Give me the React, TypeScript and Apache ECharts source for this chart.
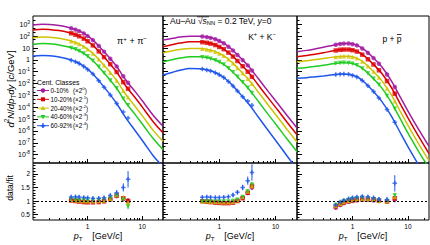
import React, { useEffect, useRef } from 'react';
import * as echarts from 'echarts';

// ---------------- data ----------------
const centClasses = ['0-10%', '10-20%', '20-40%', '40-60%', '60-92%'];
const scalePowers = ['0', '-1', '-2', '-3', '-4'];

const fitPt = [0.1, 0.15, 0.2, 0.3, 0.45, 0.65, 0.9, 1.25, 1.7, 2.4, 3.4, 5, 7.5, 11, 16, 24];

const piFit010 = [870, 1000, 950, 790, 540, 320, 145, 46, 11.2, 1.9, 0.28, 2.0e-2, 2.0e-3, 2.0e-4, 2.0e-5, 2.5e-6];
const piFit1020 = [330, 380, 360, 300, 200, 117, 54, 16.6, 4.0, 0.66, 9.5e-2, 6.3e-3, 6.0e-4, 5.9e-5, 5.8e-6, 7.1e-7];
const piFit2040 = [74, 85, 81, 66, 45, 26, 11.5, 3.5, 0.81, 0.132, 1.86e-2, 1.2e-3, 1.12e-4, 1.1e-5, 1.07e-6, 1.35e-7];
const piFit4060 = [20.4, 23.4, 22.4, 18.2, 12, 6.8, 2.95, 0.85, 0.19, 2.95e-2, 4.0e-3, 2.5e-4, 2.3e-5, 2.2e-6, 2.2e-7, 2.7e-8];
const piFit6092 = [2.1, 2.3, 2.2, 1.74, 1.12, 0.6, 0.24, 6.3e-2, 1.26e-2, 1.8e-3, 2.1e-4, 1.26e-5, 1.0e-6, 8.9e-8, 7.9e-9, 1.0e-9];

const kFit010 = [47, 66, 83, 100, 100, 79, 50, 22.4, 7.1, 1.41, 0.25, 2.4e-2, 2.0e-3, 2.0e-4, 2.0e-5, 1.8e-6];
const kFit1020 = [12.9, 20, 26, 33, 33, 26, 16.2, 7.1, 2.2, 0.43, 7.4e-2, 6.9e-3, 5.6e-4, 5.6e-5, 5.5e-6, 4.9e-7];
const kFit2040 = [4.0, 5.9, 7.6, 9.1, 9.1, 7.2, 4.5, 1.95, 0.59, 0.112, 1.9e-2, 1.74e-3, 1.41e-4, 1.38e-5, 1.35e-6, 1.17e-7];
const kFit4060 = [0.69, 1.07, 1.41, 1.82, 1.82, 1.41, 0.85, 0.355, 0.105, 1.95e-2, 3.2e-3, 2.9e-4, 2.3e-5, 2.2e-6, 2.1e-7, 1.8e-8];
const kFit6092 = [5.2e-2, 9.1e-2, 0.132, 0.186, 0.182, 0.132, 7.4e-2, 2.8e-2, 7.4e-3, 1.17e-3, 1.7e-4, 1.38e-5, 1.0e-6, 8.9e-8, 7.9e-9, 6.3e-10];

const pFit010 = [4.9, 6.3, 7.9, 11.5, 17.4, 23.4, 24, 15.8, 6.3, 1.41, 0.25, 1.78e-2, 5.6e-4, 2.2e-5, 1.12e-6, 5.0e-8];
const pFit1020 = [1.86, 2.34, 2.88, 3.98, 5.75, 7.4, 7.4, 4.8, 1.86, 0.41, 7.1e-2, 4.9e-3, 1.5e-4, 5.9e-6, 2.9e-7, 1.26e-8];
const pFit2040 = [0.69, 0.83, 1.0, 1.29, 1.7, 2.04, 2.0, 1.26, 0.48, 0.102, 1.7e-2, 1.15e-3, 3.5e-5, 1.38e-6, 6.8e-8, 3.2e-9];
const pFit4060 = [0.195, 0.23, 0.27, 0.35, 0.46, 0.56, 0.54, 0.33, 0.123, 2.5e-2, 4.1e-3, 2.7e-4, 8.1e-6, 3.1e-7, 1.5e-8, 7.9e-10];
const pFit6092 = [2.75e-2, 3.16e-2, 3.6e-2, 4.4e-2, 5.5e-2, 6.3e-2, 5.9e-2, 3.4e-2, 1.12e-2, 2.1e-3, 3.0e-4, 1.9e-5, 5.6e-7, 2.2e-8, 1.12e-9, 5.0e-11];

const piPt = [0.5, 0.6, 0.7, 0.85, 1.0, 1.25, 1.6, 2.0, 2.6, 3.4, 4.5, 5.5];
const piData010 = [457, 355, 263, 166, 100, 46, 14.8, 4.9, 1.23, 0.28, 4.1e-2, 1.17e-2];
const piData1020 = [174, 132, 98, 62, 37, 16.6, 5.2, 1.7, 0.43, 9.5e-2, 1.32e-2, 3.7e-3];
const piData2040 = [38, 29, 21.4, 13.2, 7.8, 3.5, 1.1, 0.35, 8.3e-2, 1.86e-2, 2.5e-3, 6.9e-4];
const piData4060 = [10.2, 7.8, 5.6, 3.4, 2.0, 0.85, 0.26, 7.9e-2, 1.86e-2, 4.0e-3, 5.2e-4, 1.45e-4];
const piData6092 = [0.93, 0.69, 0.49, 0.28, 0.155, 6.3e-2, 1.74e-2, 5.0e-3, 1.1e-3, 2.1e-4, 4.0e-5, 1.26e-5];

const kPt = [0.5, 0.6, 0.7, 0.85, 1.0, 1.2, 1.45, 1.75, 2.1, 2.6, 3.2, 3.8];
const kData010 = [93, 83, 71, 55, 39, 25, 12.9, 6.2, 2.6, 0.95, 0.34, 0.126];
const kData1020 = [31, 27.5, 23.4, 17.8, 12.3, 7.9, 4.1, 1.9, 0.81, 0.29, 0.1, 3.7e-2];
const kData2040 = [8.5, 7.6, 6.5, 4.9, 3.4, 2.2, 1.1, 0.51, 0.21, 7.4e-2, 2.6e-2, 9.5e-3];
const kData4060 = [1.7, 1.48, 1.26, 0.93, 0.65, 0.4, 0.2, 8.9e-2, 3.7e-2, 1.29e-2, 4.4e-3, 1.6e-3];
const kData6092 = [0.166, 0.141, 0.115, 8.1e-2, 5.5e-2, 3.2e-2, 1.48e-2, 6.3e-3, 2.4e-3, 7.6e-4, 3.3e-4, 1.45e-4];

const pPt = [0.5, 0.6, 0.7, 0.85, 1.0, 1.2, 1.5, 1.9, 2.4, 3.0, 4.2, 5.8];
const pData010 = [19, 21.9, 23.4, 24, 20.9, 16.6, 9.1, 3.9, 1.41, 0.47, 5.9e-2, 5.1e-3];
const pData1020 = [6.2, 7.1, 7.4, 7.4, 6.5, 5.0, 2.75, 1.12, 0.41, 0.132, 1.62e-2, 1.41e-3];
const pData2040 = [1.78, 1.95, 2.04, 2.0, 1.74, 1.35, 0.71, 0.29, 0.102, 3.2e-2, 3.9e-3, 3.3e-4];
const pData4060 = [0.49, 0.54, 0.56, 0.54, 0.46, 0.355, 0.186, 7.2e-2, 2.5e-2, 7.8e-3, 9.1e-4, 7.6e-5];
const pData6092 = [5.8e-2, 6.2e-2, 6.3e-2, 6.0e-2, 4.9e-2, 3.6e-2, 1.78e-2, 6.5e-3, 2.1e-3, 6.0e-4, 6.6e-5, 5.4e-6];

const piRatio010 = [1.03, 1.02, 1.0, 0.98, 0.97, 0.97, 0.98, 1.0, 1.06, 1.18, 1.08, 1.0];
const piRatio1020 = [1.02, 1.0, 0.98, 0.96, 0.95, 0.95, 0.96, 0.99, 1.06, 1.2, 1.1, 1.0];
const piRatio2040 = [1.04, 1.03, 1.02, 1.0, 0.99, 0.99, 1.0, 1.02, 1.08, 1.22, 1.12, 0.95];
const piRatio4060 = [1.06, 1.05, 1.04, 1.03, 1.02, 1.02, 1.03, 1.05, 1.1, 1.2, 1.05, 0.8];
const piRatio6092 = [1.15, 1.16, 1.15, 1.13, 1.12, 1.1, 1.1, 1.12, 1.2, 1.3, 1.5, 1.8];
const piErr = [0.03, 0.03, 0.03, 0.03, 0.03, 0.03, 0.03, 0.04, 0.05, 0.06, 0.08, 0.1];
const piErrPeri = [0.05, 0.05, 0.05, 0.05, 0.05, 0.05, 0.05, 0.06, 0.08, 0.1, 0.15, 0.3];

const kRatio010 = [1.0, 0.99, 0.98, 0.96, 0.95, 0.94, 0.94, 0.96, 1.02, 1.12, 1.3, 1.5];
const kRatio1020 = [0.99, 0.97, 0.96, 0.94, 0.93, 0.92, 0.92, 0.94, 1.0, 1.1, 1.3, 1.55];
const kRatio2040 = [1.0, 0.99, 0.98, 0.97, 0.96, 0.95, 0.95, 0.97, 1.03, 1.15, 1.35, 1.55];
const kRatio4060 = [0.98, 0.98, 0.98, 0.98, 0.98, 0.98, 0.98, 1.0, 1.05, 1.15, 1.35, 1.6];
const kRatio6092 = [1.14, 1.15, 1.14, 1.13, 1.13, 1.14, 1.16, 1.22, 1.32, 1.5, 1.75, 2.05];
const kErr = [0.03, 0.03, 0.03, 0.03, 0.03, 0.03, 0.03, 0.04, 0.05, 0.06, 0.08, 0.1];
const kErrPeri = [0.05, 0.05, 0.05, 0.05, 0.05, 0.05, 0.06, 0.07, 0.08, 0.1, 0.15, 0.3];

const pRatio010 = [0.75, 0.85, 0.92, 0.97, 1.0, 1.03, 1.05, 1.05, 1.03, 1.0, 0.98, 1.05];
const pRatio1020 = [0.8, 0.88, 0.94, 0.99, 1.02, 1.04, 1.06, 1.06, 1.04, 1.01, 0.98, 1.1];
const pRatio2040 = [0.82, 0.9, 0.96, 1.01, 1.04, 1.06, 1.08, 1.07, 1.05, 1.01, 0.99, 1.15];
const pRatio4060 = [0.85, 0.93, 0.99, 1.04, 1.07, 1.09, 1.1, 1.09, 1.06, 1.02, 1.0, 1.2];
const pRatio6092 = [0.85, 0.96, 1.03, 1.08, 1.12, 1.15, 1.17, 1.16, 1.12, 1.06, 1.05, 1.65];
const pErr = [0.04, 0.03, 0.03, 0.03, 0.03, 0.03, 0.03, 0.03, 0.04, 0.05, 0.06, 0.1];
const pErrPeri = [0.06, 0.05, 0.05, 0.05, 0.05, 0.05, 0.05, 0.05, 0.06, 0.07, 0.1, 0.3];

const yMajorTicks = [1e-8, 1e-7, 1e-6, 1e-5, 1e-4, 1e-3, 1e-2, 1e-1, 1, 10, 100, 1000];
const xMajorTicks = [1, 10];
const xMinorTicks = [0.2, 0.3, 0.4, 0.5, 0.6, 0.7, 0.8, 0.9, 2, 3, 4, 5, 6, 7, 8, 9, 20];
const ratioMajorTicks = [0.5, 1, 1.5, 2];
const ratioMinorTicks = [0.4, 0.6, 0.7, 0.8, 0.9, 1.1, 1.2, 1.3, 1.4, 1.6, 1.7, 1.8, 1.9, 2.1, 2.2, 2.3];

// ---------------- styles ----------------
const FONT = '"Liberation Sans", Arial, Helvetica, sans-serif';
const BLACK = '#000000';
const colors = ['#a31ca3', '#dc0000', '#cfc300', '#1fcc1f', '#1f55ec'];
const CROSS = 'path://M0.33,0H0.67V0.33H1V0.67H0.67V1H0.33V0.67H0V0.33H0.33Z';
const symbols = ['circle', 'rect', 'triangle', 'triangle', CROSS];
const symbolRot = [0, 0, 0, 180, 0];
const X_MIN = 0.1;
const X_MAX = 24;
const Y_MIN = 2e-9;
const Y_MAX = 5e3;

const yMinorTicks: number[] = [];
for (let e = -9; e <= 3; e++) {
  [2, 5].forEach((m) => {
    const v = m * Math.pow(10, e);
    if (v > Y_MIN && v < Y_MAX) yMinorTicks.push(v);
  });
}

const species = [
  { pt: piPt, fits: [piFit010, piFit1020, piFit2040, piFit4060, piFit6092], data: [piData010, piData1020, piData2040, piData4060, piData6092], ratios: [piRatio010, piRatio1020, piRatio2040, piRatio4060, piRatio6092], errs: [piErr, piErr, piErr, piErr, piErrPeri] },
  { pt: kPt, fits: [kFit010, kFit1020, kFit2040, kFit4060, kFit6092], data: [kData010, kData1020, kData2040, kData4060, kData6092], ratios: [kRatio010, kRatio1020, kRatio2040, kRatio4060, kRatio6092], errs: [kErr, kErr, kErr, kErr, kErrPeri] },
  { pt: pPt, fits: [pFit010, pFit1020, pFit2040, pFit4060, pFit6092], data: [pData010, pData1020, pData2040, pData4060, pData6092], ratios: [pRatio010, pRatio1020, pRatio2040, pRatio4060, pRatio6092], errs: [pErr, pErr, pErr, pErr, pErrPeri] },
];

const gridRects = [
  { left: 33, top: 16, width: 130, height: 147 },
  { left: 163, top: 16, width: 134, height: 147 },
  { left: 297, top: 16, width: 132, height: 147 },
  { left: 33, top: 163, width: 130, height: 57 },
  { left: 163, top: 163, width: 134, height: 57 },
  { left: 297, top: 163, width: 132, height: 57 },
];

function richFor(fs: number, color = BLACK) {
  return {
    sup: { fontSize: fs * 0.68, verticalAlign: 'top', lineHeight: fs * 0.75, fontFamily: FONT, color, fill: color },
    sub: { fontSize: fs * 0.68, verticalAlign: 'bottom', lineHeight: fs * 0.75, fontFamily: FONT, color, fill: color },
    i: { fontSize: fs, fontStyle: 'italic', fontFamily: FONT, color, fill: color },
    n: { fontSize: fs, fontFamily: FONT, color, fill: color },
    gap: { fontSize: fs, width: fs * 1.1, fontFamily: FONT },
  };
}

function powLabel(v: number) {
  const e = Math.round(Math.log10(v));
  if (e === 0) return '1';
  if (e === 1) return '10';
  return '10{sup|' + e + '}';
}

function buildOption() {
  const xAxis: any[] = [];
  const yAxis: any[] = [];
  gridRects.forEach((_, g) => {
    const bottomRow = g >= 3;
    const firstCol = g % 3 === 0;
    xAxis.push({
      type: 'log', logBase: 10, gridIndex: g, position: 'bottom', min: X_MIN, max: X_MAX,
      axisLine: { show: false }, splitLine: { show: false },
      axisTick: { show: true, inside: true, length: 4, customValues: xMajorTicks, lineStyle: { color: BLACK, width: 1 } },
      axisLabel: {
        show: bottomRow, customValues: xMajorTicks, formatter: (v: number) => String(Math.round(v)),
        fontSize: 6.5, color: BLACK, fontFamily: FONT, margin: 3,
      },
      name: bottomRow ? '{i|p}{sub|T}{gap| }[GeV/{i|c}]' : '',
      nameLocation: 'middle', nameGap: 6,
      nameTextStyle: { fontSize: 9, fontFamily: FONT, color: BLACK, lineHeight: 11, rich: richFor(9) },
    });
    xAxis.push({
      type: 'log', logBase: 10, gridIndex: g, position: 'bottom', min: X_MIN, max: X_MAX,
      axisLine: { show: false }, splitLine: { show: false },
      axisTick: { show: true, inside: true, length: 2, customValues: xMinorTicks, lineStyle: { color: BLACK, width: 1 } },
      axisLabel: { show: false },
    });
    if (!bottomRow) {
      yAxis.push({
        type: 'log', logBase: 10, gridIndex: g, position: 'left', min: Y_MIN, max: Y_MAX,
        axisLine: { show: false }, splitLine: { show: false },
        axisTick: { show: true, inside: true, length: 5, customValues: yMajorTicks, lineStyle: { color: BLACK, width: 1 } },
        axisLabel: {
          show: firstCol, customValues: yMajorTicks, formatter: powLabel,
          fontSize: 7, lineHeight: 9, color: BLACK, fontFamily: FONT, margin: 3, rich: richFor(7),
        },
      });
      yAxis.push({
        type: 'log', logBase: 10, gridIndex: g, position: 'left', min: Y_MIN, max: Y_MAX,
        axisLine: { show: false }, splitLine: { show: false },
        axisTick: { show: true, inside: true, length: 2.5, customValues: yMinorTicks, lineStyle: { color: BLACK, width: 1 } },
        axisLabel: { show: false },
      });
    } else {
      yAxis.push({
        type: 'value', gridIndex: g, position: 'left', min: 0.3, max: 2.4,
        axisLine: { show: false }, splitLine: { show: false },
        axisTick: { show: true, inside: true, length: 5, customValues: ratioMajorTicks, lineStyle: { color: BLACK, width: 1 } },
        axisLabel: {
          show: firstCol, customValues: ratioMajorTicks, formatter: (v: number) => String(v),
          fontSize: 6.5, color: BLACK, fontFamily: FONT, margin: 3,
        },
      });
      yAxis.push({
        type: 'value', gridIndex: g, position: 'left', min: 0.3, max: 2.4,
        axisLine: { show: false }, splitLine: { show: false },
        axisTick: { show: true, inside: true, length: 2.5, customValues: ratioMinorTicks, lineStyle: { color: BLACK, width: 1 } },
        axisLabel: { show: false },
      });
    }
  });

  const series: any[] = [];
  species.forEach((sp, s) => {
    const gTop = s;
    const gBot = 3 + s;
    sp.fits.forEach((fit, c) => {
      series.push({
        type: 'line', xAxisIndex: 2 * gTop, yAxisIndex: 2 * gTop, silent: true, clip: true,
        data: fitPt.map((x, i) => [x, fit[i]]), showSymbol: false, symbol: 'none', smooth: 0.35,
        lineStyle: { color: colors[c], width: 1.5 }, itemStyle: { color: colors[c] }, z: 2,
      });
    });
    sp.data.forEach((d, c) => {
      series.push({
        type: 'scatter', xAxisIndex: 2 * gTop, yAxisIndex: 2 * gTop, silent: true,
        data: sp.pt.map((x, i) => [x, d[i]]), symbol: symbols[c], symbolRotate: symbolRot[c], symbolSize: 4.5,
        itemStyle: { color: colors[c] }, z: 3,
      });
    });
    sp.ratios.forEach((r, c) => {
      const err = sp.errs[c];
      series.push({
        type: 'custom', xAxisIndex: 2 * gBot, yAxisIndex: 2 * gBot, silent: true, clip: true,
        data: sp.pt.map((x, i) => [x, r[i] - err[i], r[i] + err[i]]),
        encode: { x: 0, y: [1, 2] },
        renderItem: (_p: any, api: any) => {
          const a = api.coord([api.value(0), api.value(1)]);
          const b = api.coord([api.value(0), api.value(2)]);
          return { type: 'line', shape: { x1: a[0], y1: a[1], x2: b[0], y2: b[1] }, style: { stroke: colors[c], lineWidth: 1 } };
        },
        z: 3,
      });
      const sc: any = {
        type: 'scatter', xAxisIndex: 2 * gBot, yAxisIndex: 2 * gBot, silent: true,
        data: sp.pt.map((x, i) => [x, r[i]]), symbol: symbols[c], symbolRotate: symbolRot[c], symbolSize: 4.5,
        itemStyle: { color: colors[c] }, z: 3,
      };
      if (c === 0) {
        sc.markLine = {
          silent: true, symbol: 'none', label: { show: false }, animation: false,
          lineStyle: { color: BLACK, width: 1, type: [2, 2] }, data: [{ yAxis: 1 }],
        };
      }
      series.push(sc);
    });
  });

  // legend + annotations
  const graphic: any[] = [];
  const t = (x: number, y: number, text: string, fs: number, align = 'left', extra: any = {}) => ({
    type: 'text', x, y, silent: true, ...extra,
    style: { text, fontSize: fs, fontFamily: FONT, fill: BLACK, textAlign: align, align, textVerticalAlign: 'middle', verticalAlign: 'middle', lineHeight: fs * 1.3, rich: richFor(fs) },
  });
  graphic.push(t(10, 89, '{i|d}{sup|2}{i|N}/{i|dp}{sub|T}{i|dy} [{i|c}/GeV]', 9.5, 'center', { rotation: Math.PI / 2 }));
  graphic.push(t(10, 188, 'data/fit', 8.5, 'center', { rotation: Math.PI / 2 }));
  graphic.push(t(132, 41, 'π{sup|+} + π{sup|−}', 9, 'center'));
  graphic.push(t(262, 37, 'K{sup|+} + K{sup|−}', 8.5, 'center'));
  graphic.push(t(392, 38.5, 'p + p', 8.5, 'center'));
  graphic.push({ type: 'line', silent: true, shape: { x1: 397, y1: 34.5, x2: 401.5, y2: 34.5 }, style: { stroke: BLACK, lineWidth: 0.8 } });
  graphic.push(t(170, 20.5, 'Au–Au √{i|s}{sub|NN} = 0.2 TeV, {i|y}=0', 8.5, 'left'));
  graphic.push({ type: 'line', silent: true, shape: { x1: 197, y1: 16.8, x2: 209, y2: 16.8 }, style: { stroke: BLACK, lineWidth: 0.7 } });

  graphic.push(t(37, 82, 'Cent. Classes', 6.8, 'left'));
  centClasses.forEach((label, c) => {
    const y = 90.5 + c * 8.8;
    const cx = 43;
    graphic.push({ type: 'line', silent: true, shape: { x1: 37, y1: y, x2: 49, y2: y }, style: { stroke: colors[c], lineWidth: 1 } });
    const col = colors[c];
    if (c === 0) graphic.push({ type: 'circle', silent: true, shape: { cx, cy: y, r: 2.2 }, style: { fill: col } });
    if (c === 1) graphic.push({ type: 'rect', silent: true, shape: { x: cx - 2, y: y - 2, width: 4, height: 4 }, style: { fill: col } });
    if (c === 2) graphic.push({ type: 'polygon', silent: true, shape: { points: [[cx - 2.3, y + 2], [cx + 2.3, y + 2], [cx, y - 2.3]] }, style: { fill: col } });
    if (c === 3) graphic.push({ type: 'polygon', silent: true, shape: { points: [[cx - 2.3, y - 2], [cx + 2.3, y - 2], [cx, y + 2.3]] }, style: { fill: col } });
    if (c === 4) graphic.push({ type: 'polygon', silent: true, shape: { points: [[cx - 0.8, y - 2.4], [cx + 0.8, y - 2.4], [cx + 0.8, y - 0.8], [cx + 2.4, y - 0.8], [cx + 2.4, y + 0.8], [cx + 0.8, y + 0.8], [cx + 0.8, y + 2.4], [cx - 0.8, y + 2.4], [cx - 0.8, y + 0.8], [cx - 2.4, y + 0.8], [cx - 2.4, y - 0.8], [cx - 0.8, y - 0.8]] }, style: { fill: col } });
    graphic.push(t(50.5, y, label, 6.3, 'left'));
    graphic.push(t(73, y, '(×2{sup|' + scalePowers[c] + '})', 6.3, 'left'));
  });

  return {
    animation: false,
    backgroundColor: '#ffffff',
    grid: gridRects.map((r) => ({ ...r, show: true, borderColor: BLACK, borderWidth: 1, backgroundColor: 'transparent', containLabel: false, outerBoundsMode: 'none' })),
    xAxis,
    yAxis,
    series,
    graphic,
  };
}

export default function App() {
  const ref = useRef<HTMLDivElement>(null);
  useEffect(() => {
    const chart = echarts.init(ref.current as HTMLDivElement, null, { renderer: 'svg' });
    chart.setOption(buildOption() as any);
    return () => chart.dispose();
  }, []);
  return <div ref={ref} style={{ position: 'absolute', left: 0, top: 0, width: 430, height: 245 }} />;
}
